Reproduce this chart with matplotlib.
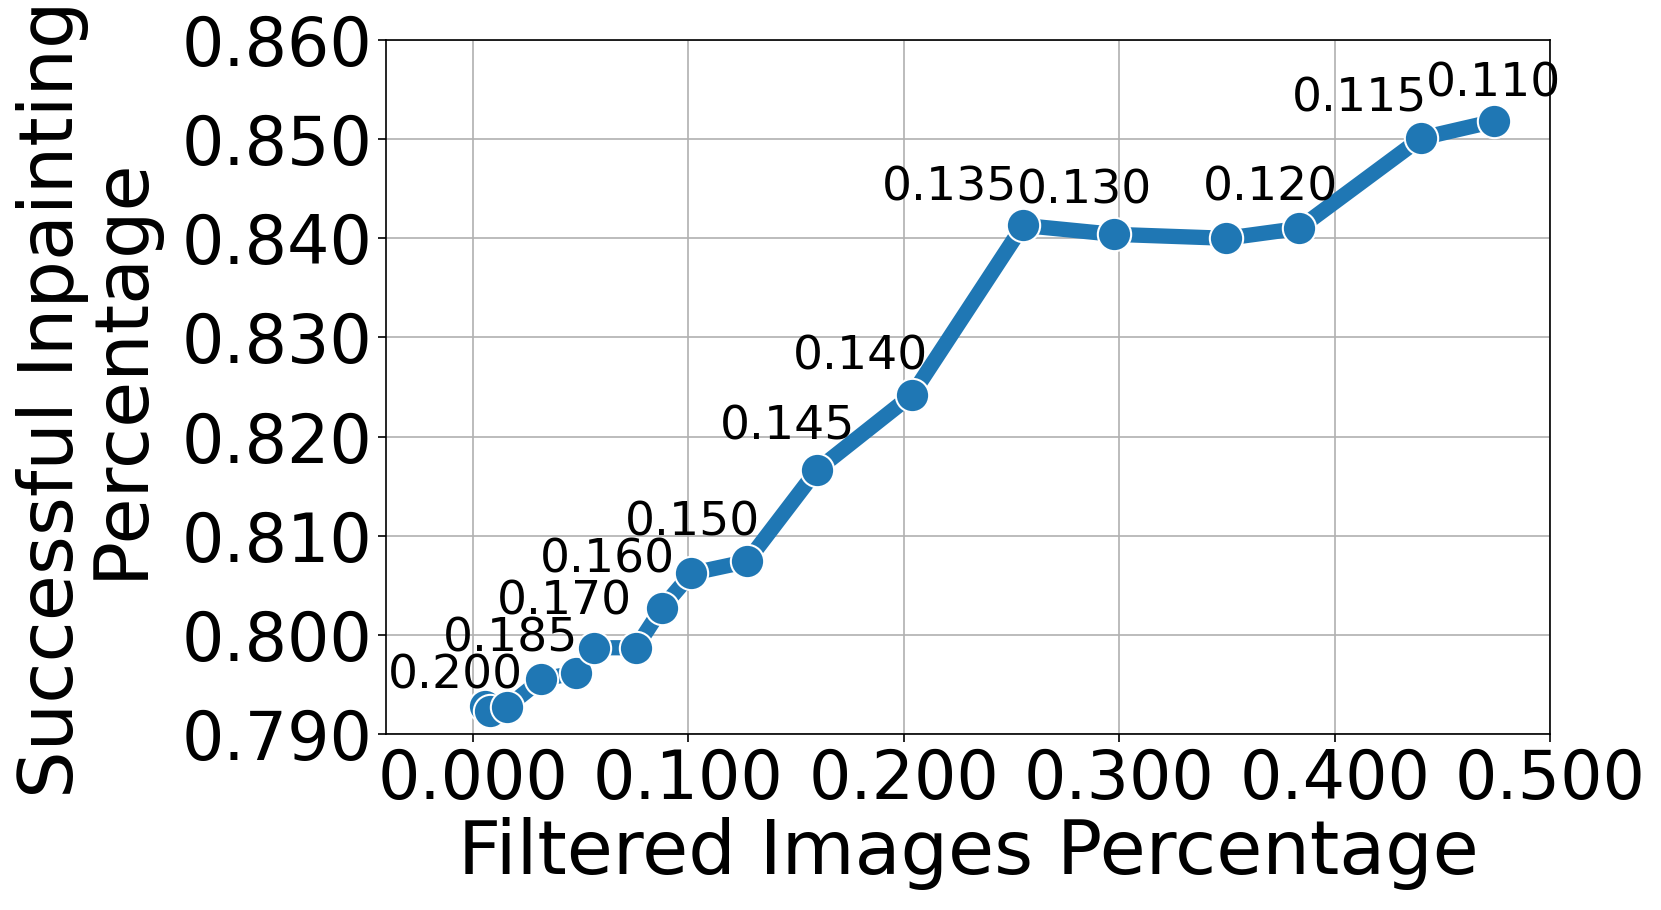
import matplotlib
matplotlib.use("Agg")
import matplotlib.pyplot as plt

# Data
filtered_pct = [0.0057, 0.0080, 0.0158, 0.0318, 0.0481, 0.0561, 0.0757, 0.0877,
                0.1015, 0.1273, 0.1596, 0.2038, 0.2554, 0.2976, 0.3497, 0.3836,
                0.4401, 0.4740]
success_pct = [0.7928, 0.7923, 0.7927, 0.7955, 0.7962, 0.7987, 0.7987, 0.8027,
               0.8062, 0.8074, 0.8166, 0.8242, 0.8413, 0.8404, 0.8400, 0.8410,
               0.8501, 0.8518]
# threshold labels: (point index, label)
label_idx = [0, 2, 4, 5, 8, 10, 11, 12, 13, 14, 16, 17]
label_txt = ["0.200", "0.185", "0.170", "0.160", "0.150", "0.145", "0.140",
             "0.135", "0.130", "0.120", "0.115", "0.110"]
# text offsets in points (dx, dy) from the labelled point
label_off = [(-21, 22), (3, 49), (-9, 51), (10, 63), (1, 36), (-21, 31), (-37, 27),
             (-53, 27), (-21, 31), (32, 36), (-44, 28), (0, 27)]

xticks = [0.0, 0.1, 0.2, 0.3, 0.4, 0.5]
yticks = [0.79, 0.80, 0.81, 0.82, 0.83, 0.84, 0.85, 0.86]

fig = plt.figure(figsize=(16.61, 9.10), dpi=100)
ax = fig.add_axes([386 / 1661, 1 - 734 / 910, (1550 - 386) / 1661, (734 - 40) / 910])

ax.plot(filtered_pct, success_pct, color="#1f77b4", lw=11, marker="o",
        markersize=24, markeredgecolor="white", markeredgewidth=1.5, zorder=3)

for i, t, (dx, dy) in zip(label_idx, label_txt, label_off):
    ax.annotate(t, (filtered_pct[i], success_pct[i]), xytext=(dx, dy),
                textcoords="offset points", ha="center", va="center",
                fontsize=34, zorder=4)

ax.set_xlim(-0.0403, 0.5)
ax.set_ylim(0.79, 0.86)
ax.set_xticks(xticks)
ax.set_yticks(yticks)
ax.set_xticklabels([f"{v:.3f}" for v in xticks])
ax.set_yticklabels([f"{v:.3f}" for v in yticks])
ax.tick_params(labelsize=48, length=6, width=1.2)
ax.grid(True, color="#b0b0b0", lw=1.2)
ax.set_axisbelow(True)
for s in ax.spines.values():
    s.set_linewidth(1.2)
ax.set_xlabel("Filtered Images Percentage", fontsize=54, labelpad=3)
ax.set_ylabel("Successful Inpainting \n Percentage", fontsize=54, linespacing=1.05,
              labelpad=12)

fig.savefig("out.png", dpi=100)
